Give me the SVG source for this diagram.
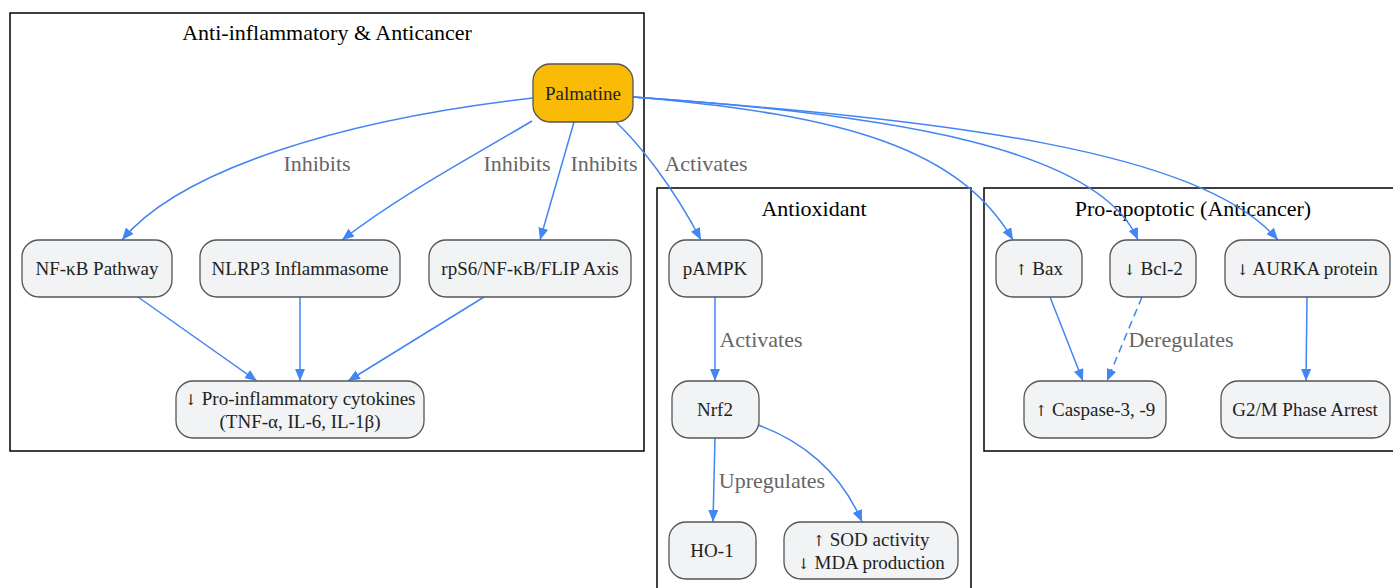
<svg xmlns="http://www.w3.org/2000/svg" width="1393" height="588" viewBox="0 0 1393 588">
<style>
.cl{fill:none;stroke:#000;stroke-width:1.5}
.ct{font-family:"Liberation Serif","Times New Roman",serif;font-size:22px;fill:#000;text-anchor:middle}
.n rect{fill:#f1f3f4;stroke:#555;stroke-width:1.3}
.n text,.p text{font-family:"Liberation Serif","Times New Roman",serif;font-size:19px;fill:#222;text-anchor:middle}
.p rect{fill:#f9bb06;stroke:#555;stroke-width:1.3}
.ar{font-family:"DejaVu Serif","DejaVu Sans",serif;font-size:15px;fill:#222}
.e{fill:none;stroke:#4285f4;stroke-width:1.5;marker-end:url(#ah)}
.d{stroke-dasharray:8,5}
.lb{font-family:"Liberation Serif","Times New Roman",serif;font-size:22px;fill:#666;text-anchor:middle}
</style>
<defs>
<marker id="ah" viewBox="0 0 12 10" refX="12" refY="5" markerWidth="12" markerHeight="10" markerUnits="userSpaceOnUse" orient="auto">
<path d="M0,0 L12,5 L0,10 z" fill="#4285f4"/>
</marker>
</defs>
<rect width="1393" height="588" fill="#fff"/>
<g id="clusters">
<g id="cluster-anti-inflammatory"><rect class="cl" x="10" y="13" width="634" height="438"/><text class="ct" x="327" y="40">Anti-inflammatory &amp; Anticancer</text></g>
<g id="cluster-antioxidant"><rect class="cl" x="657" y="188" width="314" height="420"/><text class="ct" x="814" y="216">Antioxidant</text></g>
<g id="cluster-proapoptotic"><rect class="cl" x="984" y="188" width="420" height="263"/><text class="ct" x="1193" y="216">Pro-apoptotic (Anticancer)</text></g>
</g>
<g id="connectors">
<path class="e" d="M533,98 C340,120 180,170 122,240"/>
<path class="e" d="M532,121 C470,158 400,195 342,240"/>
<path class="e" d="M574,122 L540,240"/>
<path class="e" d="M616,122 C640,145 672,185 701,240"/>
<path class="e" d="M633,97 C850,115 960,150 1013,240"/>
<path class="e" d="M633,97 C900,115 1100,150 1138,240"/>
<path class="e" d="M633,97 C950,120 1200,150 1278,240"/>
<path class="e" d="M138,297 L257,381"/>
<path class="e" d="M300,297 L300,381"/>
<path class="e" d="M484,297 L348,381"/>
<path class="e" d="M715,297 L715,381"/>
<path class="e" d="M715,438 L713,522"/>
<path class="e" d="M758,425 C800,440 840,470 862,522"/>
<path class="e" d="M1050,297 L1083,381"/>
<path class="e d" d="M1142,297 L1107,381"/>
<path class="e" d="M1307,297 L1306,381"/>
<text class="lb" x="317" y="171">Inhibits</text>
<text class="lb" x="517" y="171">Inhibits</text>
<text class="lb" x="604" y="171">Inhibits</text>
<text class="lb" x="706" y="171">Activates</text>
<text class="lb" x="761" y="347">Activates</text>
<text class="lb" x="772" y="488">Upregulates</text>
<text class="lb" x="1181" y="347">Deregulates</text>
</g>
<g id="palmatine" class="p"><rect x="533" y="64" width="100" height="58" rx="17"/><text x="583" y="100">Palmatine</text></g>
<g id="nfkb" class="n"><rect x="22" y="240" width="150" height="57" rx="17"/><text x="97" y="275">NF-κB Pathway</text></g>
<g id="nlrp3" class="n"><rect x="200" y="240" width="200" height="57" rx="17"/><text x="300" y="275">NLRP3 Inflammasome</text></g>
<g id="rps6" class="n"><rect x="429" y="240" width="202" height="57" rx="17"/><text x="530" y="275">rpS6/NF-κB/FLIP Axis</text></g>
<g id="cytokines" class="n"><rect x="176" y="381" width="248" height="57" rx="17"/><text x="300" y="405"><tspan class="ar">↓</tspan> Pro-inflammatory cytokines</text><text x="300" y="428">(TNF-α, IL-6, IL-1β)</text></g>
<g id="pampk" class="n"><rect x="669" y="240" width="93" height="57" rx="17"/><text x="715" y="275">pAMPK</text></g>
<g id="nrf2" class="n"><rect x="672" y="381" width="87" height="57" rx="17"/><text x="715" y="416">Nrf2</text></g>
<g id="ho1" class="n"><rect x="669" y="522" width="87" height="57" rx="17"/><text x="712" y="557">HO-1</text></g>
<g id="sod" class="n"><rect x="784" y="522" width="174" height="57" rx="17"/><text x="871" y="546"><tspan class="ar">↑</tspan> SOD activity</text><text x="871" y="569"><tspan class="ar">↓</tspan> MDA production</text></g>
<g id="bax" class="n"><rect x="996" y="240" width="86" height="57" rx="17"/><text x="1039" y="275"><tspan class="ar">↑</tspan> Bax</text></g>
<g id="bcl2" class="n"><rect x="1110" y="240" width="86" height="57" rx="17"/><text x="1153" y="275"><tspan class="ar">↓</tspan> Bcl-2</text></g>
<g id="aurka" class="n"><rect x="1225" y="240" width="165" height="57" rx="17"/><text x="1307" y="275"><tspan class="ar">↓</tspan> AURKA protein</text></g>
<g id="caspase" class="n"><rect x="1024" y="381" width="142" height="57" rx="17"/><text x="1095" y="416"><tspan class="ar">↑</tspan> Caspase-3, -9</text></g>
<g id="g2m" class="n"><rect x="1221" y="381" width="169" height="57" rx="17"/><text x="1305" y="416">G2/M Phase Arrest</text></g>
</svg>
